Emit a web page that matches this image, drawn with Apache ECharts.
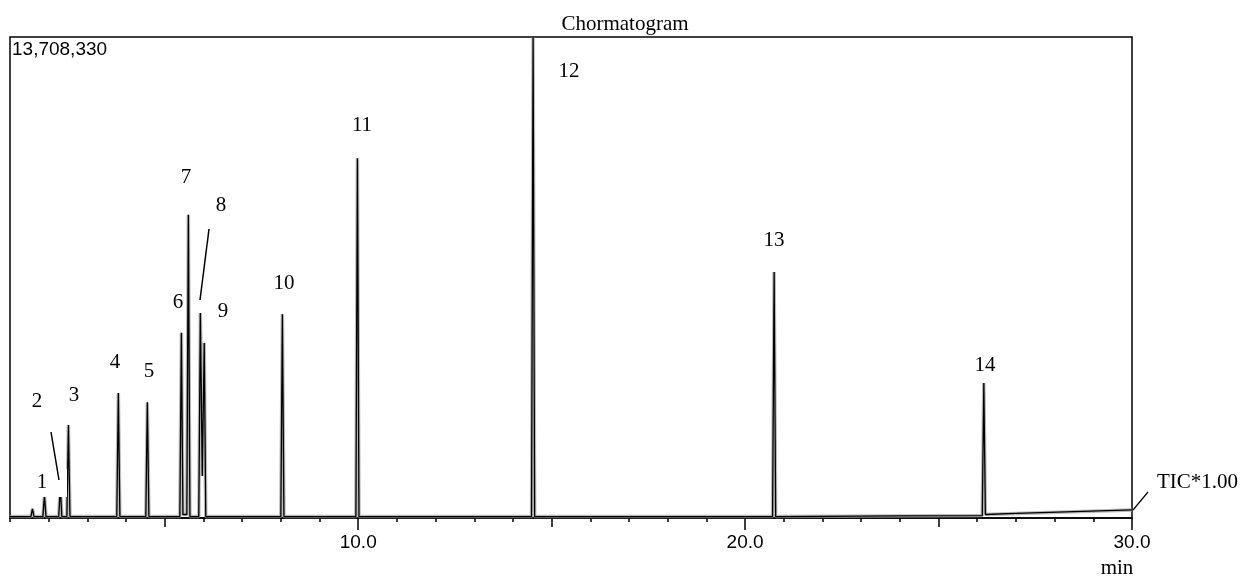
<!DOCTYPE html>
<html>
<head>
<meta charset="utf-8">
<script src="https://cdn.jsdelivr.net/npm/echarts@6/dist/echarts.min.js"></script>
<style>
html,body{margin:0;padding:0;background:#fff;}
#chart{width:1243px;height:576px;}
</style>
</head>
<body>
<div id="chart"></div>
<script>
// Retention time (min) of the trace points
var retentionTime = [1.00,
  1.54, 1.58, 1.62,
  1.85, 1.89, 1.93,
  2.26, 2.30, 2.34,
  2.47, 2.51, 2.55,
  3.13, 3.15, 3.17,
  3.76, 3.80, 3.84,
  4.51, 4.55, 4.59,
  5.39, 5.43, 5.47,
  5.57, 5.61, 5.65,
  5.88, 5.92, 5.97, 6.02, 6.06,
  6.42, 6.44, 6.46,
  8.00, 8.04, 8.08,
  8.23, 8.25, 8.27,
  9.94, 9.98, 10.02,
  14.48, 14.52, 14.56,
  20.71, 20.75, 20.79,
  24.00,
  26.13, 26.17, 26.21,
  27.00, 28.50, 30.00];
// TIC intensity at each point
var intensity = [40000,
  40000, 260000, 40000,
  40000, 650000, 40000,
  40000, 900000, 40000,
  40000, 2650000, 40000,
  40000, 90000, 40000,
  40000, 3560000, 40000,
  40000, 3300000, 40000,
  40000, 5280000, 100000,
  100000, 8640000, 40000,
  40000, 5840000, 1200000, 4990000, 40000,
  40000, 90000, 40000,
  40000, 5810000, 40000,
  40000, 80000, 40000,
  40000, 10250000, 40000,
  40000, 13708330, 40000,
  40000, 7010000, 40000,
  60000,
  70000, 3850000, 100000,
  130000, 180000, 230000];
var peakLabels = ['1','2','3','4','5','6','7','8','9','10','11','12','13','14'];
var majorTicks = [10, 20, 30];
var midTicks = [5, 15, 25];
var yMax = 13708330;

var trace = retentionTime.map(function (t, i) { return [t, intensity[i]]; });

// label positions (px)
var labelPos = [[42,482],[37,401],[74,395],[115,362],[149,371],[178,302],[186,177],
  [221,205],[223,311],[284,283],[362,125],[569,71],[774,240],[985,365]];

var serif = '21px "Liberation Serif", "Times New Roman", serif';
var sans = '19px "Liberation Sans", Arial, sans-serif';

var graphics = [];
graphics.push({type:'rect', z:100, shape:{x:34, y:469, width:33, height:28}, style:{fill:'#fff'}});
peakLabels.forEach(function (lab, i) {
  graphics.push({type:'text', z:101, x:labelPos[i][0], y:labelPos[i][1],
    style:{text:lab, font:serif, fill:'#000', align:'center', verticalAlign:'middle', textAlign:'center', textVerticalAlign:'middle'}});
});
graphics.push({type:'line', z:101, shape:{x1:51, y1:432, x2:59, y2:480}, style:{stroke:'#000', lineWidth:1.5}});
graphics.push({type:'line', z:101, shape:{x1:209, y1:229, x2:200, y2:300}, style:{stroke:'#000', lineWidth:1.5}});
graphics.push({type:'line', z:101, shape:{x1:1133, y1:510, x2:1148, y2:492}, style:{stroke:'#000', lineWidth:1.2}});
graphics.push({type:'text', z:101, x:1157, y:482,
  style:{text:'TIC*1.00', font:serif, fill:'#000', align:'left', verticalAlign:'middle', textAlign:'left', textVerticalAlign:'middle'}});
graphics.push({type:'text', z:101, x:625, y:24,
  style:{text:'Chormatogram', font:serif, fill:'#000', align:'center', verticalAlign:'middle', textAlign:'center', textVerticalAlign:'middle'}});
graphics.push({type:'text', z:101, x:12, y:50,
  style:{text:'13,708,330', font:sans, fill:'#000', align:'left', verticalAlign:'middle', textAlign:'left', textVerticalAlign:'middle'}});
graphics.push({type:'text', z:101, x:1117, y:568,
  style:{text:'min', font:serif, fill:'#000', align:'center', verticalAlign:'middle', textAlign:'center', textVerticalAlign:'middle'}});

function baseAxis(extra) {
  var a = {type:'value', min:1, max:30, position:'bottom', gridIndex:0,
    splitLine:{show:false}, axisLine:{show:false}, axisLabel:{show:false}};
  for (var k in extra) a[k] = extra[k];
  return a;
}

var chart = echarts.init(document.getElementById('chart'));
chart.setOption({
  animation:false,
  backgroundColor:'#fff',
  grid:{left:10, right:111, top:37, bottom:58, show:true, borderColor:'#000', borderWidth:1.5, backgroundColor:'transparent'},
  xAxis:[
    baseAxis({interval:1, axisLine:{show:true, lineStyle:{color:'#000', width:1.5}},
      axisTick:{show:true, length:4, lineStyle:{color:'#000', width:1.5}}}),
    baseAxis({axisTick:{show:true, length:9, customValues:midTicks, lineStyle:{color:'#000', width:1.5}}}),
    baseAxis({axisTick:{show:true, length:12, customValues:majorTicks, lineStyle:{color:'#000', width:1.5}},
      axisLabel:{show:true, customValues:majorTicks, margin:15, color:'#000', fontSize:19,
        fontFamily:'"Liberation Sans", Arial, sans-serif',
        formatter:function (v) { return v.toFixed(1); }}})
  ],
  yAxis:{type:'value', min:0, max:yMax, axisLine:{show:false}, axisTick:{show:false},
    axisLabel:{show:false}, splitLine:{show:false}},
  series:[
    {type:'line', data:trace, showSymbol:false, silent:true, z:1,
      lineStyle:{color:'#9a9a9a', width:3.5, opacity:0.7}},
    {type:'line', data:trace, showSymbol:false, silent:true, z:2,
      lineStyle:{color:'#000', width:1.3}}
  ],
  graphic:graphics
});
</script>
</body>
</html>
